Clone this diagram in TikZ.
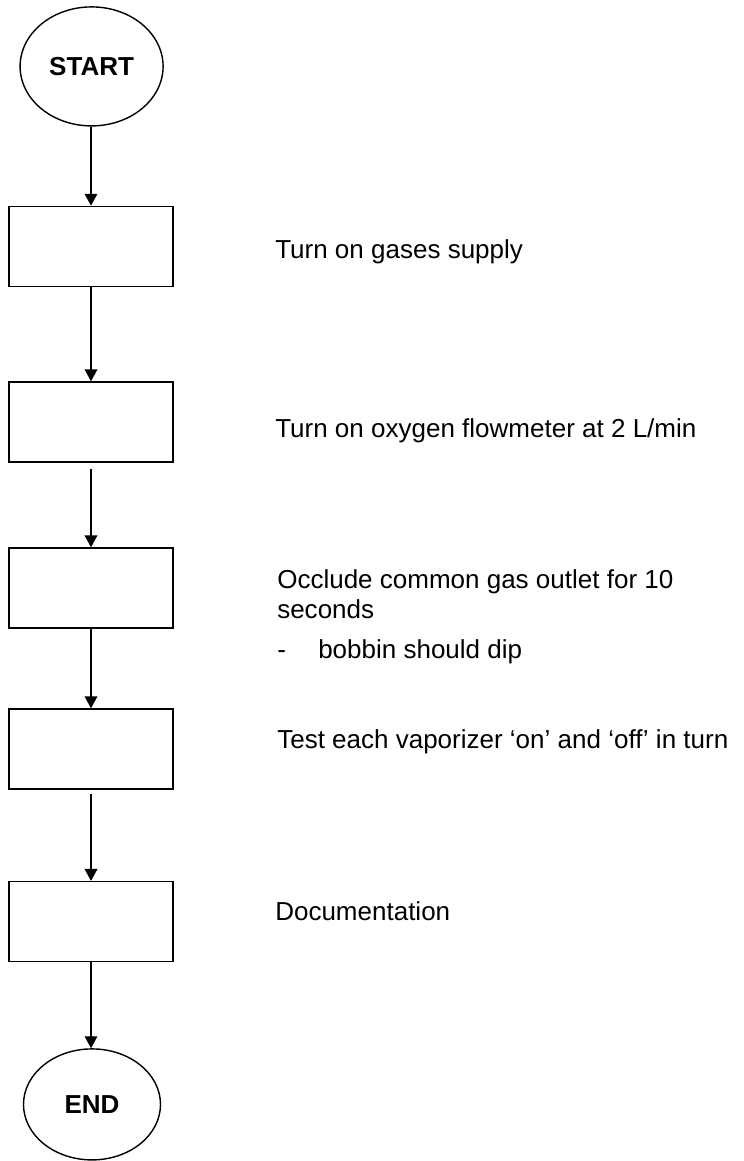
\documentclass[tikz,border=0pt]{standalone}
\usepackage{fontspec}
\setmainfont{Liberation Sans}
\usetikzlibrary{arrows.meta,shapes.geometric}

\begin{document}
\begin{tikzpicture}[
  term/.style={draw, ellipse, line width=1pt, inner sep=0pt, font=\bfseries\fontsize{18.5}{22}\selectfont},
  stepbox/.style={draw, rectangle, line width=1pt, minimum width=4.1cm, minimum height=2cm},
  note/.style={anchor=base west, inner sep=0pt, font=\fontsize{18.5}{22}\selectfont},
  arr/.style={line width=1pt, -{Triangle[length=8.5pt,width=9pt]}}]
\useasboundingbox (0,0) rectangle (18.575,-29.025);
% terminals
\node[term, minimum width=3.575cm, minimum height=2.975cm](s) at (2.29,-1.66) {START};
\node[term, minimum width=3.425cm, minimum height=2.775cm](e) at (2.3,-27.61) {END};
% steps
\node[stepbox](b1) at (2.275,-6.16) {};
\node[stepbox](b2) at (2.275,-10.55) {};
\node[stepbox](b3) at (2.275,-14.7) {};
\node[stepbox](b4) at (2.275,-18.725) {};
\node[stepbox](b5) at (2.275,-23.04) {};
% arrows
\draw[arr] (s.south -| b1) -- (b1);
\draw[arr] (b1) -- (b2);
\draw[arr, shorten <=0.15cm] (b2) -- (b3);
\draw[arr] (b3) -- (b4);
\draw[arr, shorten <=0.1cm] (b4) -- (b5);
\draw[arr] (b5) -- (b5.south |- e.north);
% texts
\node[note](t1) at (6.875,-6.45) {Turn on gases supply};
\node[note](t2) at (6.875,-10.925) {Turn on oxygen flowmeter at 2 L/min};
\node[note](t3a) at (6.925,-14.7) {Occlude common gas outlet for 10};
\node[note](t3b) at (6.925,-15.45) {seconds};
\node[note](t3d) at (6.925,-16.45) {-};
\node[note](t3c) at (7.95,-16.45) {bobbin should dip};
\node[note](t4) at (6.925,-18.7) {Test each vaporizer ‘on’ and ‘off’ in turn};
\node[note](t5) at (6.875,-23.0) {Documentation};
\end{tikzpicture}
\end{document}
